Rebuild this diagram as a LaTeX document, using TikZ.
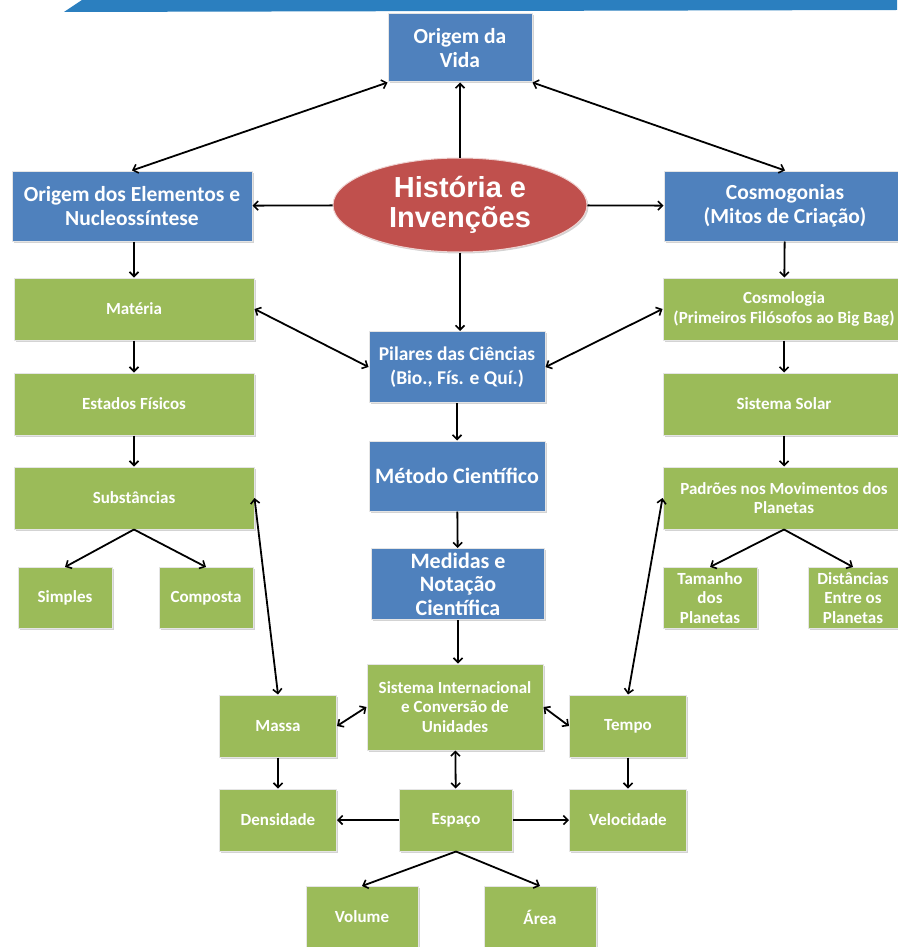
\documentclass[tikz,border=0pt]{standalone}
\usepackage{fontspec}
\setmainfont{Carlito}
\newfontfamily\arialfont{Liberation Sans}
\usepackage{tikz}
\usetikzlibrary{arrows,arrows.meta,shapes,positioning,calc}
\usetikzlibrary{shadows}

\definecolor{azul}{HTML}{4F81BD}
\definecolor{verde}{HTML}{9BBB59}
\definecolor{vermelho}{HTML}{C0504D}
\definecolor{faixa}{HTML}{2B7FBF}

\begin{document}
\begin{tikzpicture}[x=1pt,y=-1pt,line width=1.8pt,>={Straight Barb[length=4.5pt,width=9pt,line width=1.6pt]}]
	\tikzstyle{caixa}=[rectangle,inner sep=1pt,align=center,text=white,draw=white!80!gray,line width=1pt,
		drop shadow={opacity=0.35,shadow xshift=1.5pt,shadow yshift=-1.5pt}]
	\tikzstyle{azulbox}=[caixa,fill=azul,font=\bfseries\fontsize{21.5}{24}\selectfont]
	\tikzstyle{verdebox}=[caixa,fill=verde,font=\bfseries\fontsize{17}{19.5}\selectfont]
	\tikzstyle{larga}=[minimum width=240pt,minimum height=62pt]
	\tikzstyle{direita}=[minimum width=242pt,minimum height=62pt]
	\tikzstyle{media}=[minimum width=176pt,minimum height=70pt]
	\tikzstyle{pequena}=[minimum width=117pt,minimum height=62pt]
	\tikzstyle{mini}=[minimum width=94pt,minimum height=61pt]
	
	\useasboundingbox (0,0) rectangle (897,947);
	\fill[faixa] (82,0) -- (897,0) -- (897,10) -- (64,12) -- cycle;
	
	\node[azulbox,minimum width=144pt,minimum height=68pt](vida) at (460,48){Origem da\\Vida};
	\node[ellipse,fill=vermelho,draw=white!75!vermelho,line width=1pt,minimum width=254pt,minimum height=94pt,inner sep=0pt,
		text=white,align=center,font=\arialfont\bfseries\fontsize{29}{30}\selectfont,
		drop shadow={opacity=0.35,shadow xshift=1.5pt,shadow yshift=-1.5pt}](historia) at (460,205){História e\\Invenções};
	\node[azulbox,larga,minimum height=70pt](elementos) at (132,206){Origem dos Elementos e\\Nucleossíntese};
	\node[azulbox,direita,minimum height=70pt](cosmogonias) at (785,206){Cosmogonias\\(Mitos de Criação)};
	
	\node[verdebox,larga](materia) at (134,309){Matéria};
	\node[verdebox,larga](estados) at (134,404){Estados Físicos};
	\node[verdebox,larga](substancias) at (134,498){Substâncias};
	\node[verdebox,mini](simples) at (65,598){Simples};
	\node[verdebox,mini](composta) at (206,598){Composta};
	
	\node[verdebox,direita](cosmologia) at (784,309){Cosmologia\\(Primeiros Filósofos ao Big Bag)};
	\node[verdebox,direita](solar) at (784,404){Sistema Solar};
	\node[verdebox,direita](padroes) at (784,498){Padrões nos Movimentos dos\\Planetas};
	\node[verdebox,mini](tamanho) at (710,598){Tamanho\\dos\\Planetas};
	\node[verdebox,mini,minimum width=90pt](distancias) at (853,598){Distâncias\\Entre os\\Planetas};
	
	\node[azulbox,media,minimum height=71pt,font=\bfseries\fontsize{19.5}{24}\selectfont](pilares) at (457,367){Pilares das Ciências\\(Bio., Fís. e Quí.)};
	\node[azulbox,media,font=\bfseries\fontsize{22}{24}\selectfont](metodo) at (457,476){Método Científico};
	\node[azulbox,media,minimum width=173pt,minimum height=71pt,font=\bfseries\fontsize{22}{23.5}\selectfont](medidas) at (458,584){Medidas e\\Notação\\Científica};
	\node[verdebox,media,minimum height=86pt](sistema) at (455,707){Sistema Internacional\\e Conversão de\\Unidades};
	
	\node[verdebox,pequena](massa) at (278,726){Massa};
	\node[verdebox,pequena](densidade) at (278,820){Densidade};
	\node[verdebox,pequena](tempo) at (628,726){Tempo};
	\node[verdebox,pequena](velocidade) at (628,820){Velocidade};
	\node[verdebox,pequena,minimum width=113pt](espaco) at (456,820){Espaço};
	\node[verdebox,pequena,minimum width=112pt,minimum height=61pt](volume) at (362,917){Volume};
	\node[verdebox,pequena,minimum width=112pt,minimum height=61pt](area) at (540,917){Área};
	
	% topo
	\path[->] (historia) edge (vida);
	\path[<->] (vida.south west) edge (elementos.north);
	\path[<->] (vida.south east) edge (cosmogonias.north);
	\path[->] (historia) edge (elementos);
	\path[->] (historia) edge (cosmogonias);
	\path[->] (historia.south) edge (historia.south |- pilares.north);
	
	% esquerda
	\path[->] (elementos.south -| materia) edge (materia);
	\path[->] (materia) edge (estados);
	\path[->] (estados) edge (substancias);
	\path[->] (substancias.south) edge (simples.north);
	\path[->] (substancias.south) edge (composta.north);
	
	% direita
	\path[->] (cosmogonias) edge (cosmologia);
	\path[->] (cosmologia) edge (solar);
	\path[->] (solar) edge (padroes);
	\path[->] (padroes.south) edge (tamanho.north);
	\path[->] (padroes.south) edge (distancias.north);
	
	% centro
	\path[<->] (materia.east) edge (pilares.west);
	\path[<->] (cosmologia.west) edge (pilares.east);
	\path[->] (pilares) edge (metodo);
	\path[->] (metodo) edge (medidas);
	\path[->] (medidas.south) edge (medidas.south |- sistema.north);
	\path[<->] (substancias.east) edge (massa.north);
	\path[<->] (padroes.west) edge (tempo.north);
	\path[<->] (sistema.west) edge (massa.east);
	\path[<->] (sistema.east) edge (tempo.west);
	\path[<->] (sistema) edge (espaco);
	\path[->] (massa) edge (densidade);
	\path[->] (tempo) edge (velocidade);
	\path[->] (espaco) edge (densidade);
	\path[->] (espaco) edge (velocidade);
	\path[->] (espaco.south) edge (volume.north);
	\path[->] (espaco.south) edge (area.north);
\end{tikzpicture}
\end{document}
